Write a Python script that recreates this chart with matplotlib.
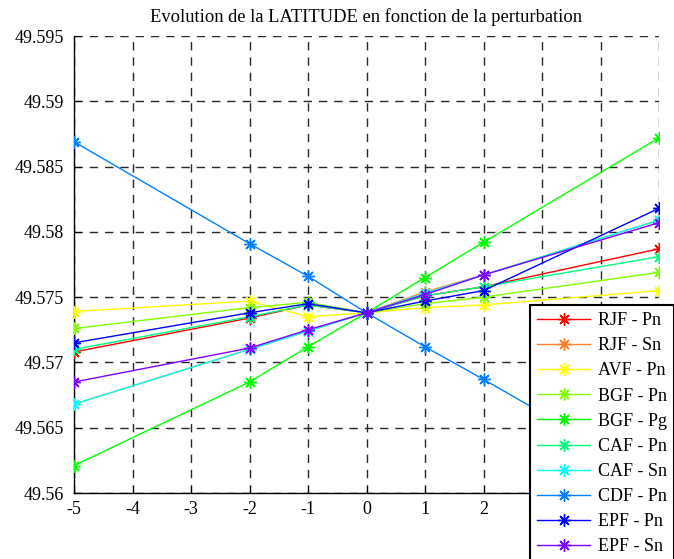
import matplotlib
matplotlib.use("Agg")
import matplotlib.pyplot as plt
from matplotlib.ticker import FixedLocator, FixedFormatter

plt.rcParams['font.family'] = ['Liberation Serif', 'DejaVu Serif']
plt.rcParams['axes.unicode_minus'] = False

# Perturbation values (x) and resulting latitude per station/phase
perturbation = [-5, -2, -1, 0, 1, 2, 5]

labels = ["RJF - Pn", "RJF - Sn", "AVF - Pn", "BGF - Pn", "BGF - Pg",
          "CAF - Pn", "CAF - Sn", "CDF - Pn", "EPF - Pn", "EPF - Sn"]

rjf_pn = [49.5708, 49.5734, 49.5744, 49.5738, 49.5751, 49.5758, 49.5787]
rjf_sn = [49.5668, 49.5710, 49.5724, 49.5738, 49.5754, 49.5767, 49.5809]
avf_pn = [49.5739, 49.5747, 49.5735, 49.5738, 49.5742, 49.5744, 49.5755]
bgf_pn = [49.5726, 49.5742, 49.5746, 49.5738, 49.5745, 49.5750, 49.5769]
bgf_pg = [49.5621, 49.5685, 49.5712, 49.5738, 49.5765, 49.5792, 49.5872]
caf_pn = [49.5710, 49.5735, 49.5744, 49.5738, 49.5751, 49.5758, 49.5781]
caf_sn = [49.5668, 49.5710, 49.5724, 49.5738, 49.5753, 49.5767, 49.5809]
cdf_pn = [49.5869, 49.5791, 49.5766, 49.5738, 49.5712, 49.5687, 49.5610]
epf_pn = [49.5715, 49.5738, 49.5745, 49.5738, 49.5747, 49.5755, 49.5818]
epf_sn = [49.5685, 49.5711, 49.5725, 49.5738, 49.5752, 49.5767, 49.5807]

series = [rjf_pn, rjf_sn, avf_pn, bgf_pn, bgf_pg,
          caf_pn, caf_sn, cdf_pn, epf_pn, epf_sn]

colors = [(1.0, 0.0, 0.0), (1.0, 0.5, 0.15), (1.0, 1.0, 0.0), (0.5, 1.0, 0.0),
          (0.0, 1.0, 0.0), (0.0, 1.0, 0.5), (0.0, 1.0, 1.0), (0.0, 0.5, 1.0),
          (0.0, 0.0, 1.0), (0.5, 0.0, 1.0)]

x_ticks = [-5, -4, -3, -2, -1, 0, 1, 2, 3, 4, 5]
y_ticks = [49.56, 49.565, 49.57, 49.575, 49.58, 49.585, 49.59, 49.595]
y_tick_labels = ["49.56", "49.565", "49.57", "49.575", "49.58", "49.585", "49.59", "49.595"]

fig = plt.figure(figsize=(6.74, 5.59), dpi=100)
ax = fig.add_axes([74 / 674, 66 / 559, 585 / 674, 457 / 559])

# asterisk marker: eight thin arms (plus and cross combined)
asterisk = (8, 2, 0)

handles = []
for vals, col, lab in zip(series, colors, labels):
    h, = ax.plot(perturbation, vals, color=col, marker=asterisk, markersize=9,
                 markeredgewidth=1.0, linewidth=1.0, label=lab, zorder=3)
    handles.append(h)

ax.set_xlim(-5, 5)
ax.set_ylim(49.56, 49.595)
ax.xaxis.set_major_locator(FixedLocator(x_ticks))
ax.yaxis.set_major_locator(FixedLocator(y_ticks))
ax.yaxis.set_major_formatter(FixedFormatter(y_tick_labels))
ax.tick_params(direction='in', length=5, labelsize=13, colors='black')
ax.tick_params(axis='y', pad=7)
ax.tick_params(axis='x', pad=6)

ax.grid(True, color='0.15', linestyle=(0, (6, 5)), linewidth=1.0, zorder=1)
ax.set_axisbelow(True)
for side in ('top', 'right'):
    ax.spines[side].set_visible(False)
for side in ('left', 'bottom'):
    ax.spines[side].set_linewidth(1.0)

ax.set_title("Evolution de la LATITUDE en fonction de la perturbation",
             fontsize=13.3, pad=10)

leg = fig.legend(handles=handles, loc='upper left',
                 bbox_to_anchor=(530 / 674, 1 - 305 / 559),
                 bbox_transform=fig.transFigure,
                 fontsize=13, frameon=True, fancybox=False,
                 edgecolor='black', framealpha=1.0, borderpad=0.4,
                 labelspacing=0.45, handlelength=2.95, handletextpad=0.4,
                 borderaxespad=0.0)
leg.get_frame().set_linewidth(1.5)

fig.savefig("out.png", dpi=100)
